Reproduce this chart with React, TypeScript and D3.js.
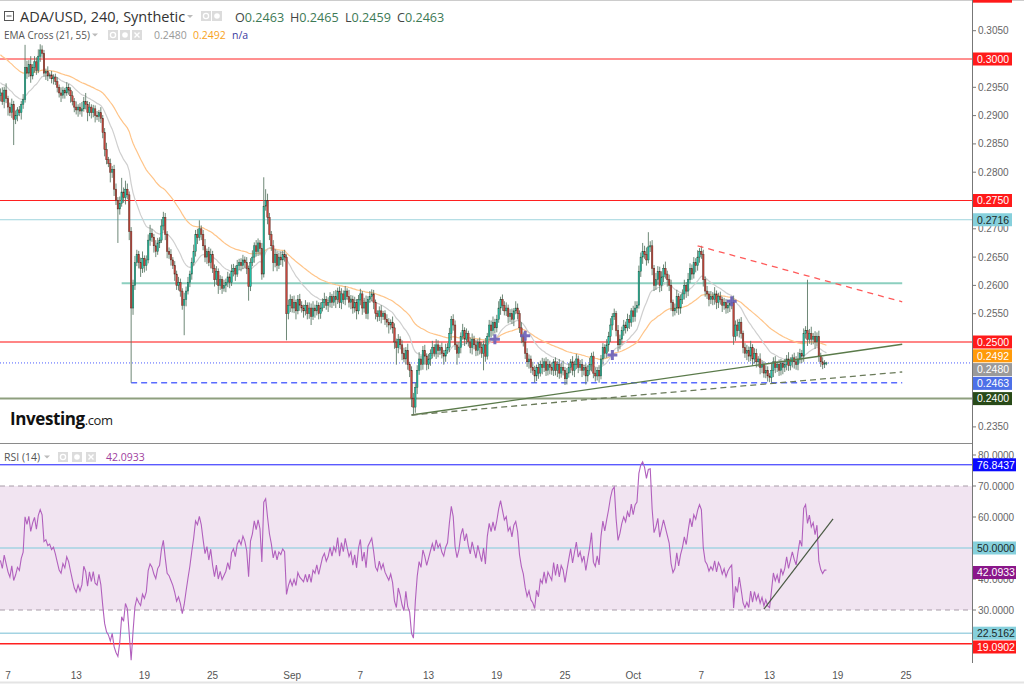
import React from 'react';
import * as d3 from 'd3';

// ---- DATA (prices in units of 0.0001) ----
const startTime = Date.UTC(2023, 7, 6, 8); // first 4h candle
const firstOpen = 2935;
const closes = [
  2940, 2925, 2945, 2930, 2915, 2905, 2920, 2893, 2900, 2910,
  2905, 2920, 2928, 2985, 2975, 2990, 2970, 2985, 2995, 2980,
  3005, 3016, 3010, 2975, 2978, 2970, 2972, 2965, 2968, 2960,
  2950, 2940, 2936, 2945, 2940, 2950, 2945, 2935, 2925, 2915,
  2910, 2915, 2908, 2912, 2925, 2920, 2905, 2915, 2905, 2912,
  2900, 2898, 2905, 2895, 2870, 2840, 2822, 2815, 2800, 2805,
  2770, 2750, 2735, 2745, 2765, 2755, 2770, 2760, 2695, 2560,
  2600, 2640, 2655, 2640, 2630, 2648, 2635, 2645, 2680, 2692,
  2685, 2670, 2660, 2675, 2680, 2705, 2720, 2690, 2660, 2655,
  2645, 2635, 2620, 2600, 2605, 2590, 2565, 2575, 2590, 2605,
  2620, 2640, 2660, 2690, 2685, 2700, 2690, 2670, 2650, 2660,
  2640, 2655, 2630, 2610, 2625, 2600, 2610, 2595, 2600, 2605,
  2615, 2605, 2625, 2630, 2620, 2635, 2640, 2635, 2645, 2640,
  2630, 2598, 2640, 2650, 2670, 2660, 2675, 2665, 2620, 2740,
  2750, 2720, 2690, 2670, 2640, 2655, 2635, 2650, 2645, 2655,
  2650, 2550, 2565, 2575, 2560, 2570, 2555, 2575, 2565, 2560,
  2555, 2565, 2550, 2560, 2545, 2560, 2555, 2565, 2550, 2560,
  2570, 2575, 2565, 2570, 2580, 2570, 2580, 2575, 2590, 2570,
  2585, 2575, 2590, 2580, 2570, 2575, 2560, 2570, 2555, 2575,
  2585, 2560, 2570, 2550, 2575, 2580, 2585, 2570, 2550, 2545,
  2555, 2545, 2550, 2540, 2535, 2530, 2535, 2525, 2500, 2490,
  2505, 2495, 2480, 2470, 2485, 2460, 2450, 2400, 2385, 2420,
  2450, 2470, 2460, 2485, 2475, 2460, 2470, 2480, 2490, 2480,
  2495, 2485, 2490, 2480, 2475, 2485, 2490, 2515, 2540, 2530,
  2495, 2480, 2490, 2510, 2520, 2505, 2515, 2500, 2490, 2505,
  2495, 2485, 2500, 2490, 2480, 2495, 2475, 2510, 2530, 2520,
  2535, 2525, 2540, 2560, 2575, 2565, 2555, 2560, 2545, 2550,
  2540, 2555, 2560, 2550, 2525, 2510, 2500, 2480, 2465, 2470,
  2455, 2450, 2440, 2455, 2445, 2460, 2455, 2465, 2450, 2460,
  2455, 2450, 2465, 2450, 2460, 2445, 2455, 2450, 2435, 2445,
  2455, 2465, 2450, 2460, 2470, 2455, 2460, 2450, 2455, 2440,
  2450, 2460, 2475, 2445, 2440, 2450, 2440, 2470, 2490, 2480,
  2495, 2510, 2530, 2545, 2550, 2520, 2495, 2505, 2520, 2530,
  2525, 2540, 2535, 2555, 2545, 2560, 2565, 2625, 2650, 2660,
  2655, 2645, 2668, 2670, 2630, 2600, 2610, 2625, 2600, 2615,
  2630, 2620, 2610, 2600, 2570, 2555, 2560, 2580, 2560, 2575,
  2585, 2600, 2590, 2610, 2630, 2620, 2640, 2635, 2650, 2660,
  2655, 2610, 2590, 2585, 2575, 2580, 2575, 2585, 2570, 2580,
  2575, 2565, 2570, 2560, 2565, 2568, 2570, 2510, 2530, 2520,
  2535, 2515, 2490, 2480, 2485, 2475, 2490, 2470, 2480, 2465,
  2470, 2455, 2460, 2445, 2450, 2440, 2437, 2450, 2465, 2455,
  2460, 2450, 2462, 2455, 2460, 2470, 2458, 2465, 2472, 2465,
  2460, 2470, 2480, 2475, 2515, 2520, 2505, 2515, 2505, 2510,
  2500, 2510, 2475, 2465, 2460, 2463, 2463,
];
const upWick = [
  8, 10, 6, 12, 5, 8, 10, 6, 9, 5,
  7, 6, 10, 40, 12, 8, 15, 6, 10, 8,
  12, 10, 8, 6, 5, 9, 4, 7, 5, 6,
  8, 5, 10, 6, 4, 9, 6, 5, 8, 6,
  10, 5, 7, 12, 8, 15, 6, 9, 5, 7,
  6, 8, 5, 10, 6, 8, 12, 5, 9, 6,
  8, 10, 6, 12, 25, 8, 15, 10, 6, 8,
  10, 12, 8, 6, 9, 12, 5, 8, 10, 15,
  8, 6, 10, 9, 5, 12, 10, 8, 6, 7,
  9, 5, 8, 6, 10, 7, 5, 12, 8, 10,
  6, 9, 12, 8, 10, 15, 6, 8, 12, 5,
  8, 10, 6, 7, 9, 5, 8, 6, 10, 7,
  9, 6, 12, 8, 5, 10, 7, 8, 9, 6,
  10, 5, 8, 12, 6, 10, 8, 5, 10, 51,
  20, 12, 8, 6, 10, 9, 5, 8, 10, 6,
  8, 5, 10, 9, 6, 12, 5, 8, 10, 7,
  6, 9, 5, 10, 8, 12, 6, 8, 5, 10,
  7, 12, 6, 9, 8, 5, 10, 12, 6, 8,
  10, 6, 9, 5, 12, 8, 7, 10, 6, 8,
  9, 5, 8, 12, 6, 10, 8, 7, 5, 6,
  8, 10, 5, 6, 9, 7, 5, 10, 8, 6,
  9, 5, 8, 10, 6, 12, 5, 7, 10, 8,
  9, 12, 6, 8, 10, 5, 9, 7, 12, 6,
  10, 8, 5, 9, 6, 12, 8, 10, 6, 9,
  8, 5, 10, 7, 12, 6, 9, 5, 8, 10,
  6, 9, 5, 8, 10, 7, 12, 6, 9, 8,
  10, 6, 8, 12, 5, 9, 7, 10, 6, 8,
  9, 5, 12, 8, 6, 10, 7, 5, 9, 8,
  6, 10, 8, 5, 9, 7, 12, 6, 8, 10,
  7, 9, 5, 8, 6, 10, 8, 12, 6, 9,
  8, 5, 10, 7, 9, 6, 8, 10, 5, 7,
  9, 12, 6, 8, 10, 5, 9, 7, 8, 6,
  10, 8, 12, 6, 9, 5, 10, 8, 7, 9,
  6, 10, 8, 5, 9, 12, 7, 10, 8, 15,
  10, 12, 26, 8, 10, 6, 12, 9, 8, 10,
  7, 12, 6, 9, 10, 5, 8, 12, 6, 9,
  8, 10, 6, 12, 9, 7, 10, 8, 12, 6,
  10, 8, 6, 9, 5, 10, 8, 12, 6, 7,
  9, 5, 8, 6, 10, 7, 9, 12, 8, 10,
  6, 9, 5, 8, 10, 7, 12, 6, 9, 8,
  5, 10, 8, 6, 9, 7, 5, 12, 8, 10,
  6, 9, 8, 5, 10, 7, 12, 8, 6, 9,
  10, 12, 8, 6, 9, 8, 90, 8, 12, 6,
  9, 7, 10, 6, 8, 5, 2,
];
const downWick = [
  10, 6, 12, 8, 15, 6, 9, 45, 8, 10,
  6, 12, 8, 5, 10, 7, 12, 6, 9, 8,
  5, 10, 8, 6, 12, 9, 5, 8, 10, 6,
  9, 8, 12, 6, 10, 5, 8, 12, 7, 9,
  8, 12, 6, 10, 5, 9, 15, 6, 10, 8,
  12, 6, 9, 8, 10, 12, 8, 6, 18, 10,
  12, 8, 60, 10, 6, 9, 12, 8, 15, 132,
  12, 8, 6, 10, 15, 8, 12, 9, 6, 10,
  8, 12, 10, 6, 9, 5, 8, 10, 12, 8,
  10, 6, 12, 8, 9, 10, 8, 53, 12, 6,
  8, 10, 5, 9, 12, 6, 10, 8, 9, 12,
  6, 10, 8, 12, 9, 15, 8, 10, 6, 12,
  8, 10, 6, 9, 12, 5, 8, 10, 6, 9,
  10, 25, 8, 6, 10, 9, 8, 12, 10, 6,
  8, 12, 10, 9, 15, 8, 10, 6, 9, 12,
  8, 47, 10, 12, 8, 9, 15, 6, 10, 8,
  12, 8, 10, 9, 15, 6, 12, 8, 10, 9,
  6, 10, 8, 12, 9, 10, 6, 15, 8, 10,
  12, 8, 10, 6, 9, 12, 10, 8, 15, 6,
  10, 12, 8, 9, 10, 6, 8, 12, 10, 9,
  8, 12, 6, 10, 9, 15, 8, 10, 12, 30,
  10, 8, 12, 6, 10, 9, 12, 15, 14, 10,
  12, 8, 10, 9, 15, 10, 8, 12, 9, 6,
  10, 12, 8, 9, 15, 10, 6, 8, 12, 10,
  9, 20, 8, 10, 6, 12, 9, 8, 10, 12,
  8, 10, 9, 12, 8, 30, 10, 6, 8, 12,
  9, 10, 8, 6, 12, 10, 8, 9, 12, 10,
  8, 12, 6, 10, 9, 12, 8, 10, 9, 12,
  10, 8, 12, 9, 10, 6, 12, 8, 10, 9,
  12, 8, 10, 9, 12, 10, 8, 9, 11, 10,
  8, 10, 9, 12, 8, 10, 6, 12, 9, 15,
  10, 8, 12, 9, 10, 8, 12, 6, 10, 9,
  8, 12, 10, 9, 6, 10, 12, 8, 10, 9,
  10, 6, 12, 8, 10, 9, 8, 6, 10, 12,
  8, 10, 6, 9, 12, 10, 8, 9, 12, 10,
  9, 8, 12, 10, 15, 10, 8, 9, 12, 10,
  8, 10, 12, 9, 6, 10, 8, 12, 9, 10,
  8, 12, 10, 9, 12, 8, 10, 9, 12, 10,
  9, 12, 8, 10, 9, 12, 10, 15, 8, 10,
  12, 9, 10, 8, 12, 10, 9, 12, 8, 10,
  9, 12, 10, 8, 9, 10, 8, 9, 12, 10,
  8, 10, 9, 12, 8, 10, 9, 8, 10, 12,
  9, 10, 8, 12, 10, 9, 12, 8, 10, 9,
  12, 8, 10, 9, 8, 6, 4,
];

const ema21Seed = 2960;
const ema55Seed = 3010;
const rsiSeedGain = 9;
const rsiSeedLoss = 11;

// header values
const ohlcLabels = ['O', 'H', 'L', 'C'];
const ohlcValues = ['0.2463', '0.2465', '0.2459', '0.2463'];
const emaValues = ['0.2480', '0.2492', 'n/a'];
const rsiValueText = '42.0933';
const rsiLast = 42.0933;

// horizontal levels (full width)
const levelPrices = [0.3, 0.275, 0.2716, 0.25, 0.24];
const levelKinds = ['red', 'red', 'cyan', 'pink', 'green'];
const offTopLevel = 0.3111; // a level just above the visible range (only its label edge shows)
// ray levels start dates
const rayPrices = [0.2604, 0.2428];
const rayStarts = ['2023-08-17T00:00Z', '2023-08-17T20:00Z'];
const rayEnd = '2023-10-24T16:00Z';
// trend lines [startDate, startPrice, endDate, endPrice]
const trendSolid = ['2023-09-11T12:00Z', 0.2371, '2023-10-24T16:00Z', 0.2496];
const trendDashed = ['2023-09-11T12:00Z', 0.2371, '2023-10-24T16:00Z', 0.2447];
const trendRed = ['2023-10-06T16:00Z', 0.267, '2023-10-24T16:00Z', 0.2571];
// EMA cross markers
const crossDates = ['2023-09-18T20:00Z', '2023-09-21T12:00Z', '2023-09-29T04:00Z', '2023-10-09T16:00Z'];
const crossPrices = [0.2505, 0.2511, 0.2477, 0.2572];
// RSI levels
const rsiLevels = [76.8437, 50, 22.5162, 19.0902];
const rsiLevelKinds = ['blue', 'cyan', 'cyan', 'red'];
const rsiTrend = ['2023-10-12T12:00Z', 30.3, '2023-10-18T14:00Z', 59.4];

// axis ticks
const priceTicks = [0.235, 0.24, 0.245, 0.25, 0.255, 0.26, 0.265, 0.27, 0.275, 0.28, 0.285, 0.29, 0.295, 0.3, 0.305];
const rsiTicks = [30, 40, 50, 60, 70, 80];
const timeTickDates = ['2023-08-07', '2023-08-13', '2023-08-19', '2023-08-25', '2023-09-01', '2023-09-07', '2023-09-13', '2023-09-19', '2023-09-25', '2023-10-01', '2023-10-07', '2023-10-13', '2023-10-19', '2023-10-25'];
const timeTickLabels = ['7', '13', '19', '25', 'Sep', '7', '13', '19', '25', 'Oct', '7', '13', '19', '25'];

// ---- LAYOUT ----
const W = 1024;
const H = 684;
const PR = 972; // right edge of plot
const AX = "'Liberation Sans', Arial, sans-serif";
const UI = "'Open Sans', 'Noto Sans', sans-serif";

const x = d3.scaleUtc().domain([new Date('2023-08-07T00:00Z'), new Date('2023-10-25T00:00Z')]).range([8, 906]);
const y = d3.scaleLinear().domain([0.24, 0.3]).range([398.6, 59]);
const yr = d3.scaleLinear().domain([30, 80]).range([610, 455]);

type Candle = { t: Date; o: number; h: number; l: number; c: number };
const candles: Candle[] = closes.map((c, i) => {
  const o = i === 0 ? firstOpen : closes[i - 1];
  const h = Math.max(o, c) + (upWick[i] ?? 6);
  const l = Math.min(o, c) - (downWick[i] ?? 6);
  return { t: new Date(startTime + i * 4 * 3600 * 1000), o: o / 1e4, h: h / 1e4, l: l / 1e4, c: c / 1e4 };
});

function ema(n: number, seed: number) {
  const a = 2 / (n + 1);
  let e = seed;
  return closes.map((c) => (e = e + a * (c - e)) / 1e4);
}
const ema21 = ema(21, ema21Seed);
const ema55 = ema(55, ema55Seed);

const rsi: number[] = (() => {
  let g = rsiSeedGain;
  let l = rsiSeedLoss;
  return closes.map((c, i) => {
    const prev = i === 0 ? firstOpen : closes[i - 1];
    const d = c - prev;
    g = (g * 13 + Math.max(d, 0)) / 14;
    l = (l * 13 + Math.max(-d, 0)) / 14;
    return 100 - 100 / (1 + g / (l || 1e-9));
  });
})();

const levelColor: Record<string, string> = { red: '#ff2020', cyan: '#9fd4de', pink: '#ff8585', green: '#8e9f7e', blue: '#1a1aff' };
const levelWidth: Record<string, number> = { red: 1, cyan: 1, pink: 2, green: 2, blue: 1 };

function stack(items: { y: number }[], gap: number) {
  const s = [...items].sort((a, b) => a.y - b.y);
  for (let i = 1; i < s.length; i++) if (s[i].y < s[i - 1].y + gap) s[i].y = s[i - 1].y + gap;
  return items;
}

function Icon({ x0, y0, kind }: { x0: number; y0: number; kind: string }) {
  return (
    <g>
      <rect x={x0} y={y0} width={10} height={10} fill="#dcdcdc" />
      {kind === 'eye' && <circle cx={x0 + 5} cy={y0 + 5} r={2.6} fill="none" stroke="#fff" strokeWidth={1.3} />}
      {kind === 'gear' && <circle cx={x0 + 5} cy={y0 + 5} r={2.8} fill="#fff" />}
      {kind === 'x' && <path d={`M${x0 + 2.5},${y0 + 2.5}L${x0 + 7.5},${y0 + 7.5}M${x0 + 7.5},${y0 + 2.5}L${x0 + 2.5},${y0 + 7.5}`} stroke="#fff" strokeWidth={1.4} />}
    </g>
  );
}

const ohlcX = [235, 290, 345, 397];

export default function App() {
  const bw = 1.5;
  const emaLine = (arr: number[]) =>
    d3.line<number>().x((_, i) => x(candles[i].t)).y((v) => y(v))(arr) || '';
  const rsiPath = d3.line<number>().x((_, i) => x(candles[i].t)).y((v) => yr(v))(rsi) || '';
  const seg = (s: (string | number)[], ys: (v: number) => number) => ({
    x1: x(new Date(s[0] as string)),
    y1: ys(s[1] as number),
    x2: x(new Date(s[2] as string)),
    y2: ys(s[3] as number),
  });
  const tS = seg(trendSolid, y);
  const tD = seg(trendDashed, y);
  const tR = seg(trendRed, y);
  const rT = seg(rsiTrend, yr);

  const last = candles[candles.length - 1];
  const priceLabels = stack(
    [
      { y: y(0.3), text: '0.3000', bg: '#ff1a1a', fg: '#fff' },
      { y: y(0.275), text: '0.2750', bg: '#ff1a1a', fg: '#fff' },
      { y: y(0.2716), text: '0.2716', bg: '#86d0dc', fg: '#1a2a2a' },
      { y: y(0.25), text: '0.2500', bg: '#ff1a1a', fg: '#fff' },
      { y: y(ema55[ema55.length - 1]), text: emaValues[1], bg: '#ff9a0a', fg: '#fff' },
      { y: y(ema21[ema21.length - 1]), text: emaValues[0], bg: '#9a9a9a', fg: '#fff' },
      { y: y(last.c), text: ohlcValues[3], bg: '#4d70e8', fg: '#fff' },
      { y: y(0.24), text: '0.2400', bg: '#284a18', fg: '#fff' },
    ],
    13.8
  );
  const rsiLabels = stack(
    [
      { y: yr(rsiLevels[0]), text: '76.8437', bg: '#0a0aff', fg: '#fff' },
      { y: yr(50), text: '50.0000', bg: '#86d0dc', fg: '#1a2a2a' },
      { y: yr(rsiLast), text: rsiValueText, bg: '#8a168a', fg: '#fff' },
      { y: yr(rsiLevels[2]), text: '22.5162', bg: '#86d0dc', fg: '#1a2a2a' },
      { y: yr(rsiLevels[3]), text: '19.0902', bg: '#ff1a1a', fg: '#fff' },
    ],
    13.8
  );

  return (
    <svg width={W} height={H} style={{ position: 'absolute', left: 0, top: 0, background: '#fff' }}>
      <defs>
        <clipPath id="pclip"><rect x={0} y={1} width={PR} height={442} /></clipPath>
        <clipPath id="rclip"><rect x={0} y={444} width={PR} height={219} /></clipPath>
      </defs>
      <rect x={0} y={0} width={W} height={H} fill="#fff" />

      {/* ---------- PRICE PANEL ---------- */}
      <g clipPath="url(#pclip)">
        {levelPrices.map((p, i) => (
          <line key={'lv' + i} x1={0} x2={PR} y1={y(p)} y2={y(p)} stroke={levelColor[levelKinds[i]]} strokeWidth={levelWidth[levelKinds[i]]} />
        ))}
        {rayPrices.map((p, i) => (
          <line
            key={'ray' + i}
            x1={x(new Date(rayStarts[i]))}
            x2={x(new Date(rayEnd))}
            y1={y(p)}
            y2={y(p)}
            stroke={i === 0 ? '#8ccfbf' : '#5a6cff'}
            strokeWidth={i === 0 ? 2 : 1.5}
            strokeDasharray={i === 0 ? undefined : '6,4'}
          />
        ))}
        {/* current price line */}
        <line x1={0} x2={PR} y1={y(last.c)} y2={y(last.c)} stroke="#4a5cff" strokeWidth={1} strokeDasharray="1,2" />

        {/* EMAs */}
        <path d={emaLine(ema55)} fill="none" stroke="#ffc488" strokeWidth={1.2} />
        <path d={emaLine(ema21)} fill="none" stroke="#cfcfcf" strokeWidth={1.2} />

        {/* candles */}
        {candles.map((d, i) => {
          const cx = x(d.t);
          const up = d.c >= d.o;
          const top = y(Math.max(d.o, d.c));
          const bot = y(Math.min(d.o, d.c));
          return (
            <g key={'c' + i}>
              <line x1={cx} x2={cx} y1={y(d.h)} y2={y(d.l)} stroke="#5e7a68" strokeWidth={0.9} />
              <rect
                x={cx - bw / 2}
                y={top}
                width={bw}
                height={Math.max(bot - top, 0.8)}
                fill={up ? '#1fc0a8' : '#c8463c'}
                stroke={up ? '#2a5a44' : '#5a2a22'}
                strokeWidth={0.45}
              />
            </g>
          );
        })}

        {/* trend lines */}
        <line {...tS} stroke="#5a7a4a" strokeWidth={1.3} />
        <line {...tD} stroke="#6a7a5a" strokeWidth={1.3} strokeDasharray="6,4" />
        <line {...tR} stroke="#ff5a5a" strokeWidth={1.3} strokeDasharray="6,5" />

        {/* EMA cross markers */}
        {crossDates.map((d, i) => {
          const cx = x(new Date(d));
          const cy = y(crossPrices[i]);
          return (
            <path key={'cr' + i} d={`M${cx - 5},${cy}L${cx + 5},${cy}M${cx},${cy - 5}L${cx},${cy + 5}`} stroke="#6a5fb8" strokeWidth={3} opacity={0.9} />
          );
        })}

        {/* logo */}
        <text x={10} y={425} fontFamily={UI} fontSize={17} fontWeight={700} fill="#111" letterSpacing={-0.4}>
          Investing<tspan fontSize={13} fontWeight={400} fill="#222">.com</tspan>
        </text>
      </g>

      {/* header */}
      <g fontFamily={UI}>
        <rect x={4.5} y={11.5} width={9} height={9} fill="none" stroke="#555" strokeWidth={1} />
        <line x1={6.5} x2={11.5} y1={16} y2={16} stroke="#555" strokeWidth={1} />
        <text x={20} y={22} fontSize={14.5} fill="#333">ADA/USD, 240, Synthetic</text>
        <path d="M187,15 L193,15 L190,18 Z" fill="#bbb" />
        <Icon x0={201} y0={11} kind="eye" />
        <Icon x0={212} y0={11} kind="gear" />
        {ohlcLabels.map((l, i) => (
          <text key={'oh' + i} x={ohlcX[i]} y={22} fontSize={12.6} fill="#444">
            {l}
            <tspan fill="#3d7a55">{ohlcValues[i]}</tspan>
          </text>
        ))}
        <text x={4} y={39} fontSize={10} fill="#555">EMA Cross (21, 55)</text>
        <path d="M92,33.5 L98,33.5 L95,36.5 Z" fill="#bbb" />
        <Icon x0={108} y0={30} kind="eye" />
        <Icon x0={120} y0={30} kind="gear" />
        <Icon x0={132} y0={30} kind="x" />
        <text x={154} y={39} fontSize={10.5} fill="#999">{emaValues[0]}</text>
        <text x={193} y={39} fontSize={10.5} fill="#f7a21b">{emaValues[1]}</text>
        <text x={232} y={39} fontSize={10.5} fill="#3a3aa0">{emaValues[2]}</text>
      </g>

      {/* ---------- RSI PANEL ---------- */}
      <g clipPath="url(#rclip)">
        <rect x={0} y={yr(70)} width={PR} height={yr(30) - yr(70)} fill="#f1e4f1" />
        <line x1={0} x2={PR} y1={yr(70)} y2={yr(70)} stroke="#a89ca8" strokeWidth={1} strokeDasharray="5,4" />
        <line x1={0} x2={PR} y1={yr(30)} y2={yr(30)} stroke="#a89ca8" strokeWidth={1} strokeDasharray="5,4" />
        {rsiLevels.map((v, i) => (
          <line key={'rl' + i} x1={0} x2={PR} y1={yr(v)} y2={yr(v)} stroke={rsiLevelKinds[i] === 'cyan' ? '#a3d3e2' : levelColor[rsiLevelKinds[i]]} strokeWidth={rsiLevelKinds[i] === 'blue' ? 1 : 1.4} />
        ))}
        <path d={rsiPath} fill="none" stroke="#b160bd" strokeWidth={1.1} />
        <line {...rT} stroke="#4a5a44" strokeWidth={1.2} />
      </g>
      <g fontFamily={UI}>
        <text x={4} y={461} fontSize={10.5} fill="#555">RSI (14)</text>
        <path d="M44,455.5 L50,455.5 L47,458.5 Z" fill="#bbb" />
        <Icon x0={58} y0={452} kind="eye" />
        <Icon x0={72} y0={452} kind="gear" />
        <Icon x0={86} y0={452} kind="x" />
        <text x={106} y={461} fontSize={10.5} fill="#a040a0">{rsiValueText}</text>
      </g>

      {/* borders */}
      <line x1={0} x2={W} y1={0.5} y2={0.5} stroke="#ccc" />
      <line x1={0} x2={PR} y1={443.5} y2={443.5} stroke="#8a8a8a" />
      <line x1={PR + 0.5} x2={PR + 0.5} y1={0} y2={663} stroke="#777" />
      <line x1={0} x2={W} y1={682.5} y2={682.5} stroke="#e4e4e4" strokeWidth={2} />

      {/* price axis */}
      <g fontFamily={AX} fontSize={10} fill="#666">
        {priceTicks.map((p, i) => (
          <g key={'pt' + i}>
            <line x1={PR} x2={PR + 4} y1={y(p)} y2={y(p)} stroke="#777" />
            <text x={978} y={y(p) + 3.5}>{p.toFixed(4)}</text>
          </g>
        ))}
        {rsiTicks.map((v, i) => (
          <g key={'rt' + i}>
            <line x1={PR} x2={PR + 4} y1={yr(v)} y2={yr(v)} stroke="#777" />
            <text x={978} y={yr(v) + 3.5}>{v.toFixed(4)}</text>
          </g>
        ))}
      </g>
      <g fontFamily={AX} fontSize={10.5}>
        {/* label edge of the level just above the visible range */}
        <rect x={PR + 1} y={y(offTopLevel) - 6.5} width={39} height={13} fill="#ff1a1a" />
        {priceLabels.map((l: any, i) => (
          <g key={'pl' + i}>
            <rect x={PR + 1} y={l.y - 6.5} width={39} height={13} fill={l.bg} />
            <text x={977} y={l.y + 3.8} fill={l.fg}>{l.text}</text>
          </g>
        ))}
        {rsiLabels.map((l: any, i) => (
          <g key={'rlb' + i}>
            <rect x={PR + 1} y={l.y - 6.5} width={43} height={13} fill={l.bg} />
            <text x={977} y={l.y + 3.8} fill={l.fg}>{l.text}</text>
          </g>
        ))}
      </g>

      {/* time axis */}
      <g fontFamily={AX} fontSize={10} fill="#555" textAnchor="middle">
        {timeTickDates.map((d, i) => (
          <text key={'tt' + i} x={x(new Date(d + 'T00:00Z'))} y={679}>{timeTickLabels[i]}</text>
        ))}
      </g>
    </svg>
  );
}
